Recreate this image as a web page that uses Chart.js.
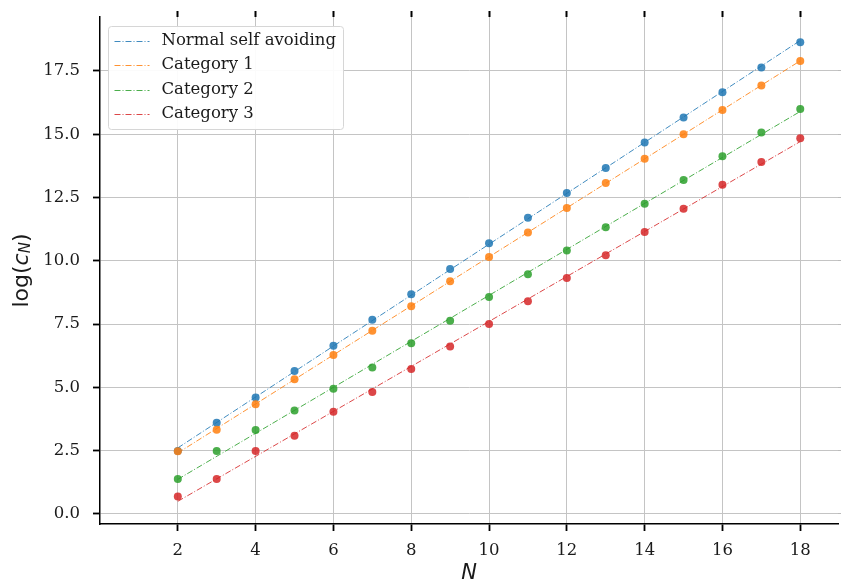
<!DOCTYPE html>
<html>
<head>
<meta charset="utf-8">
<script src="https://cdn.jsdelivr.net/npm/chart.js@4/dist/chart.umd.min.js"></script>
<style>
  html, body { margin: 0; padding: 0; background: #fff; }
  canvas { display: block; }
</style>
</head>
<body>
<canvas id="walks" width="842" height="584"></canvas>
<script>
// Walk length N and log of the number of walks c_N for each walk type
const walkLengths = [2, 3, 4, 5, 6, 7, 8, 9, 10, 11, 12, 13, 14, 15, 16, 17, 18];
const normalSelfAvoiding = [2.49, 3.60, 4.60, 5.65, 6.65, 7.67, 8.68, 9.68, 10.69, 11.70, 12.68, 13.67, 14.67, 15.66, 16.66, 17.64, 18.63];
const category1 = [2.48, 3.33, 4.33, 5.32, 6.28, 7.24, 8.21, 9.19, 10.15, 11.12, 12.09, 13.07, 14.03, 15.00, 15.96, 16.92, 17.89];
const category2 = [1.38, 2.49, 3.32, 4.09, 4.95, 5.79, 6.74, 7.63, 8.57, 9.47, 10.41, 11.33, 12.25, 13.19, 14.13, 15.07, 16.00];
const category3 = [0.69, 1.38, 2.49, 3.09, 4.04, 4.82, 5.73, 6.62, 7.50, 8.40, 9.32, 10.22, 11.14, 12.06, 13.00, 13.90, 14.84];

// Straight-line trends: values at the first and last walk length
const trendLengths = [2, 18];
const trendNormal = [2.61, 18.70];
const trendCat1 = [2.41, 17.90];
const trendCat2 = [1.37, 15.90];
const trendCat3 = [0.50, 14.71];

const seriesNames = ['Normal self avoiding', 'Category 1', 'Category 2', 'Category 3'];
const xTickValues = [2, 4, 6, 8, 10, 12, 14, 16, 18];
const yTickValues = [0, 2.5, 5, 7.5, 10, 12.5, 15, 17.5];

// Styling
const palette = ['31,119,180', '255,127,14', '44,160,44', '214,39,40'];
const markerColor = rgb => `rgba(${rgb},0.85)`;
const lineColor = rgb => `rgba(${rgb},0.85)`;
const dashDot = [6, 2, 1, 2];
const serifFont = '"DejaVu Serif", "Liberation Serif", serif';
const sansFont = '"DejaVu Sans", "Liberation Sans", sans-serif';
const labelSize = 16.5;

const pairs = (xs, ys) => xs.map((x, i) => ({ x, y: ys[i] }));
const pointSeries = [normalSelfAvoiding, category1, category2, category3];
const trendSeries = [trendNormal, trendCat1, trendCat2, trendCat3];

const datasets = [];
trendSeries.forEach((ys, i) => {
  datasets.push({
    label: seriesNames[i],
    data: pairs(trendLengths, ys),
    showLine: true,
    borderColor: lineColor(palette[i]),
    borderWidth: 1,
    borderDash: dashDot,
    pointRadius: 0,
    pointHoverRadius: 0,
    order: 10 + i
  });
});
pointSeries.forEach((ys, i) => {
  datasets.push({
    label: seriesNames[i] + ' points',
    data: pairs(walkLengths, ys),
    showLine: false,
    backgroundColor: markerColor(palette[i]),
    borderWidth: 0,
    pointRadius: 4,
    pointHoverRadius: 4,
    order: 4 - i
  });
});

// Legend frame, legend entries and axis titles
const decorations = {
  id: 'decorations',
  afterDraw(chart) {
    const ctx = chart.ctx;
    const area = chart.chartArea;
    ctx.save();

    // legend
    const lx = area.left + 8.5, ly = area.top + 9.5, lw = 235, lh = 103;
    const r = 3;
    ctx.beginPath();
    ctx.moveTo(lx + r, ly);
    ctx.lineTo(lx + lw - r, ly);
    ctx.arcTo(lx + lw, ly, lx + lw, ly + r, r);
    ctx.lineTo(lx + lw, ly + lh - r);
    ctx.arcTo(lx + lw, ly + lh, lx + lw - r, ly + lh, r);
    ctx.lineTo(lx + r, ly + lh);
    ctx.arcTo(lx, ly + lh, lx, ly + lh - r, r);
    ctx.lineTo(lx, ly + r);
    ctx.arcTo(lx, ly, lx + r, ly, r);
    ctx.closePath();
    ctx.fillStyle = 'rgba(255,255,255,0.92)';
    ctx.fill();
    ctx.strokeStyle = '#d6d6d6';
    ctx.lineWidth = 1;
    ctx.stroke();

    seriesNames.forEach((name, i) => {
      const y = ly + 14 + i * 24.5;
      ctx.beginPath();
      ctx.strokeStyle = lineColor(palette[i]);
      ctx.lineWidth = 1;
      ctx.setLineDash(dashDot);
      ctx.moveTo(lx + 6, Math.round(y) + 0.5);
      ctx.lineTo(lx + 41, Math.round(y) + 0.5);
      ctx.stroke();
      ctx.setLineDash([]);
      ctx.fillStyle = '#1a1a1a';
      ctx.font = labelSize + 'px ' + serifFont;
      ctx.textAlign = 'left';
      ctx.textBaseline = 'middle';
      ctx.fillText(name, lx + 53, y);
    });

    // x title
    ctx.fillStyle = '#1a1a1a';
    ctx.font = 'italic 21px ' + sansFont;
    ctx.textAlign = 'center';
    ctx.textBaseline = 'middle';
    ctx.fillText('N', (area.left + area.right) / 2, 574);

    // y title: log(c_N)
    const parts = [
      { t: 'log(', f: '22px ' + sansFont, dy: 0 },
      { t: 'c', f: 'italic 22px ' + sansFont, dy: 0 },
      { t: 'N', f: 'italic 15px ' + sansFont, dy: 4.5 },
      { t: ')', f: '22px ' + sansFont, dy: 0 }
    ];
    let total = 0;
    parts.forEach(p => { ctx.font = p.f; p.w = ctx.measureText(p.t).width; total += p.w; });
    ctx.translate(22, (area.top + area.bottom) / 2);
    ctx.rotate(-Math.PI / 2);
    ctx.textAlign = 'left';
    ctx.textBaseline = 'middle';
    let cx = -total / 2;
    parts.forEach(p => {
      ctx.font = p.f;
      ctx.fillText(p.t, cx, p.dy);
      cx += p.w;
    });
    ctx.restore();
  }
};

const xMin = 0, xMax = 18.97, yMin = -0.395, yMax = 19.63;
const gridColor = '#c4c4c4';
const noEdgePadding = s => { s.paddingTop = 0; s.paddingBottom = 0; s.paddingLeft = 0; s.paddingRight = 0; };

new Chart(document.getElementById('walks'), {
  type: 'scatter',
  data: { datasets },
  options: {
    responsive: false,
    animation: false,
    layout: { padding: 0 },
    plugins: { legend: { display: false }, tooltip: { enabled: false } },
    scales: {
      x: {
        type: 'linear', position: 'bottom', min: xMin, max: xMax,
        afterBuildTicks: s => { s.ticks = xTickValues.map(v => ({ value: v })); },
        afterFit: s => { s.height = 60; noEdgePadding(s); },
        grid: { color: gridColor, lineWidth: 1, tickColor: '#000', tickWidth: 1.8, tickLength: 7 },
        border: { display: true, color: '#000', width: 1.5 },
        ticks: { font: { family: serifFont, size: labelSize }, color: '#1a1a1a', padding: 10, maxRotation: 0, autoSkip: false,
                 callback: v => String(v) }
      },
      xTop: {
        type: 'linear', position: 'top', min: xMin, max: xMax,
        afterBuildTicks: s => { s.ticks = xTickValues.map(v => ({ value: v })); },
        afterFit: s => { s.height = 17; noEdgePadding(s); },
        grid: { drawOnChartArea: false, tickColor: '#000', tickWidth: 2, tickLength: 6 },
        border: { display: false },
        ticks: { display: false }
      },
      y: {
        type: 'linear', position: 'left', min: yMin, max: yMax,
        afterBuildTicks: s => { s.ticks = yTickValues.map(v => ({ value: v })); },
        afterFit: s => { s.width = 100; noEdgePadding(s); },
        grid: { color: gridColor, lineWidth: 1, tickColor: '#000', tickWidth: 1.8, tickLength: 7 },
        border: { display: true, color: '#000', width: 1.5 },
        ticks: { font: { family: serifFont, size: labelSize }, color: '#1a1a1a', padding: 13,
                 callback: v => Number(v).toFixed(1) }
      },
      yRight: {
        type: 'linear', position: 'right', min: yMin, max: yMax,
        afterBuildTicks: s => { s.ticks = yTickValues.map(v => ({ value: v })); },
        afterFit: s => { s.width = 2; noEdgePadding(s); },
        grid: { drawOnChartArea: false, tickColor: '#bbbbbb', tickWidth: 1, tickLength: 3 },
        border: { display: false },
        ticks: { display: false }
      }
    }
  },
  plugins: [decorations]
});
</script>
</body>
</html>
